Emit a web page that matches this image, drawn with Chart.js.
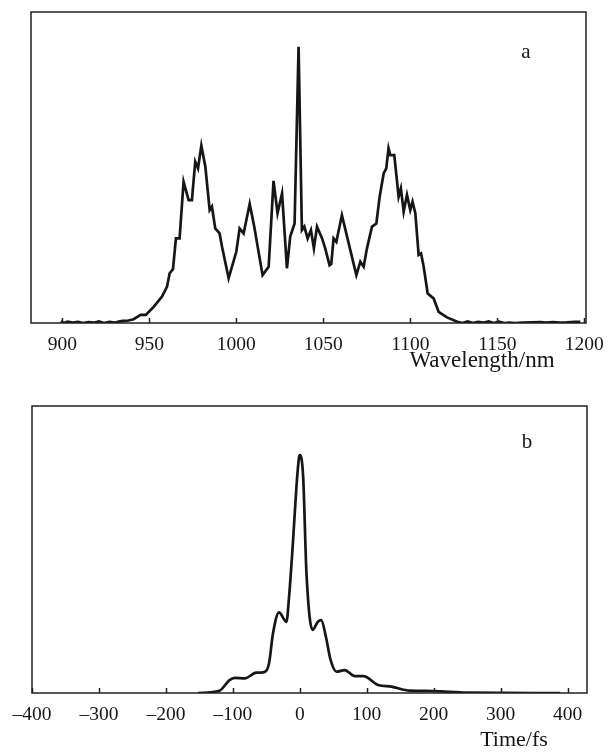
<!DOCTYPE html>
<html>
<head>
<meta charset="utf-8">
<script src="https://cdn.jsdelivr.net/npm/chart.js@4"></script>
<style>
  body { margin: 0; background: #fff; }
  .panel { position: absolute; left: 0; width: 609px; height: 376px; }
  #panelA { top: 0; }
  #panelB { top: 376px; }
</style>
</head>
<body>
<div class="panel" id="panelA"><canvas id="spectrumChart"></canvas></div>
<div class="panel" id="panelB"><canvas id="pulseChart"></canvas></div>
<script>
// spectrum (a)
const wavelengths = [899, 901, 903, 906, 909, 912, 915, 918, 921, 924, 927, 930, 933, 935, 938, 941, 945, 948,
  952.5, 957.3, 960.2, 961.7, 963.6, 965.3, 967.4, 969.7, 972.6, 974.5, 976.4, 978, 979.9, 982.2, 984.7, 986,
  987.9, 990.4, 991.8, 995.6, 1000, 1001.9, 1004.2, 1007.7, 1010.3, 1015.1, 1018.6, 1021.4, 1023.7, 1026.3,
  1029.1, 1031, 1033.5, 1035.8, 1037.7, 1039.1, 1041, 1042.9, 1044.6, 1046.4, 1049.3, 1051.1, 1053.6, 1054.6,
  1055.9, 1057.5, 1060.7, 1064.6, 1069, 1071.3, 1073.2, 1075.1, 1078, 1080.5, 1082.4, 1084.7, 1086.2, 1087.5,
  1088.5, 1090.8, 1093.3, 1094.6, 1096.2, 1098.1, 1100, 1101.3, 1102.9, 1104.8, 1106.2, 1107.7, 1110, 1113.4,
  1116.3, 1121.1, 1127, 1130, 1133, 1136, 1139, 1142, 1145, 1148, 1151, 1154, 1157, 1160, 1165, 1170, 1175,
  1178, 1182, 1186, 1190, 1195, 1197.7];
const intensityA = [0.005, 0, 0.004, 0.001, 0.004, 0, 0.003, 0.001, 0.005, 0, 0.004, 0.001, 0.005, 0.007, 0.008, 0.012, 0.026, 0.026,
  0.052, 0.085, 0.117, 0.16, 0.173, 0.272, 0.272, 0.454, 0.395, 0.395, 0.519, 0.497, 0.57, 0.503, 0.363, 0.374,
  0.304, 0.288, 0.245, 0.144, 0.229, 0.304, 0.288, 0.383, 0.31, 0.154, 0.181, 0.457, 0.353, 0.417,
  0.176, 0.278, 0.32, 0.888, 0.299, 0.31, 0.272, 0.299, 0.24, 0.31, 0.272, 0.24, 0.186, 0.19,
  0.272, 0.261, 0.347, 0.256, 0.154, 0.197, 0.181, 0.24, 0.31, 0.32, 0.406, 0.481, 0.497, 0.562,
  0.54, 0.54, 0.406, 0.433, 0.358, 0.412, 0.363, 0.39, 0.353, 0.219, 0.224, 0.181, 0.095, 0.079,
  0.036, 0.018, 0.004, 0, 0.005, 0, 0.004, 0.001, 0.005, 0, 0.004, 0, 0.001, 0, 0.001, 0.002, 0.003,
  0.001, 0.003, 0.001, 0.002, 0.004, 0.004];
const waveTicks = [900, 950, 1000, 1050, 1100, 1150, 1200];

// autocorrelation (b)
const timeFs = [-152, -120, -105, -97, -82, -65, -55, -46, -40, -31, -20, -16, -10, -5, -1, 0, 5, 10, 19, 27,
  32, 39, 46, 55, 67, 82, 95, 117, 137, 164, 199, 249, 389];
const intensityB = [0, 0.008, 0.045, 0.053, 0.051, 0.071, 0.072, 0.103, 0.208, 0.281, 0.248, 0.336, 0.533, 0.719, 0.823, 0.829, 0.754, 0.417, 0.22, 0.248,
  0.254, 0.196, 0.115, 0.074, 0.08, 0.059, 0.059, 0.028, 0.022, 0.008, 0.007, 0.001, 0];
const timeTicks = [-400, -300, -200, -100, 0, 100, 200, 300, 400];

const serif = '"Liberation Serif", "DejaVu Serif", serif';
const ink = '#161616';

// рамка, внутренние засечки и подписи
const framePlugin = {
  id: 'frame',
  afterDraw(chart, args, opts) {
    const { ctx, chartArea: a } = chart;
    const xs = chart.scales.x;
    ctx.save();
    ctx.strokeStyle = '#222';
    ctx.lineWidth = 1.5;
    ctx.strokeRect(a.left, a.top, a.right - a.left, a.bottom - a.top);
    ctx.beginPath();
    xs.ticks.forEach(t => {
      const px = Math.round(xs.getPixelForValue(t.value)) + 0.5;
      ctx.moveTo(px, a.bottom);
      ctx.lineTo(px, a.bottom - 5);
    });
    ctx.stroke();
    ctx.fillStyle = ink;
    ctx.textAlign = 'center';
    ctx.textBaseline = 'middle';
    ctx.font = opts.titleSize + 'px ' + serif;
    ctx.fillText(opts.axisTitle, a.right - opts.titleDx, a.bottom + opts.titleDy);
    ctx.font = '21px ' + serif;
    ctx.fillText(opts.letter, a.right - 60, a.top + opts.letterDy);
    ctx.restore();
  }
};

function makeChart(id, xs, ys, ticks, xMin, xMax, pad, axisHeight, smooth, frame) {
  return new Chart(document.getElementById(id), {
    type: 'line',
    data: {
      datasets: [{
        data: xs.map((x, i) => ({ x: x, y: ys[i] })),
        borderColor: ink,
        borderWidth: 2.7,
        pointRadius: 0,
        tension: smooth ? 0.4 : 0,
        cubicInterpolationMode: smooth ? 'monotone' : 'default',
        fill: false
      }]
    },
    options: {
      responsive: true,
      maintainAspectRatio: false,
      animation: false,
      layout: { padding: pad },
      plugins: { legend: { display: false }, tooltip: { enabled: false }, frame: frame },
      scales: {
        x: {
          type: 'linear',
          min: xMin,
          max: xMax,
          grid: { display: false },
          border: { display: false },
          afterBuildTicks: s => { s.ticks = ticks.map(v => ({ value: v })); },
          afterFit: s => { s.height = axisHeight; },
          ticks: {
            color: ink,
            font: { family: serif, size: 19.5 },
            padding: 2,
            maxRotation: 0,
            callback: v => String(v).replace('-', '\u2013')
          }
        },
        y: { display: false, min: 0, max: 1 }
      }
    },
    plugins: [framePlugin]
  });
}

document.addEventListener('DOMContentLoaded', function() {
  makeChart('spectrumChart', wavelengths, intensityA, waveTicks, 882, 1201,
    { left: 31, right: 23, top: 12, bottom: 0 }, 53, false,
    { axisTitle: 'Wavelength/nm', titleSize: 23, titleDx: 104, titleDy: 38, letter: 'a', letterDy: 40 });
  makeChart('pulseChart', timeFs, intensityB, timeTicks, -400, 429,
    { left: 32, right: 22, top: 30, bottom: 0 }, 59, true,
    { axisTitle: 'Time/fs', titleSize: 22, titleDx: 73, titleDy: 47, letter: 'b', letterDy: 36 });
});
</script>
</body>
</html>
